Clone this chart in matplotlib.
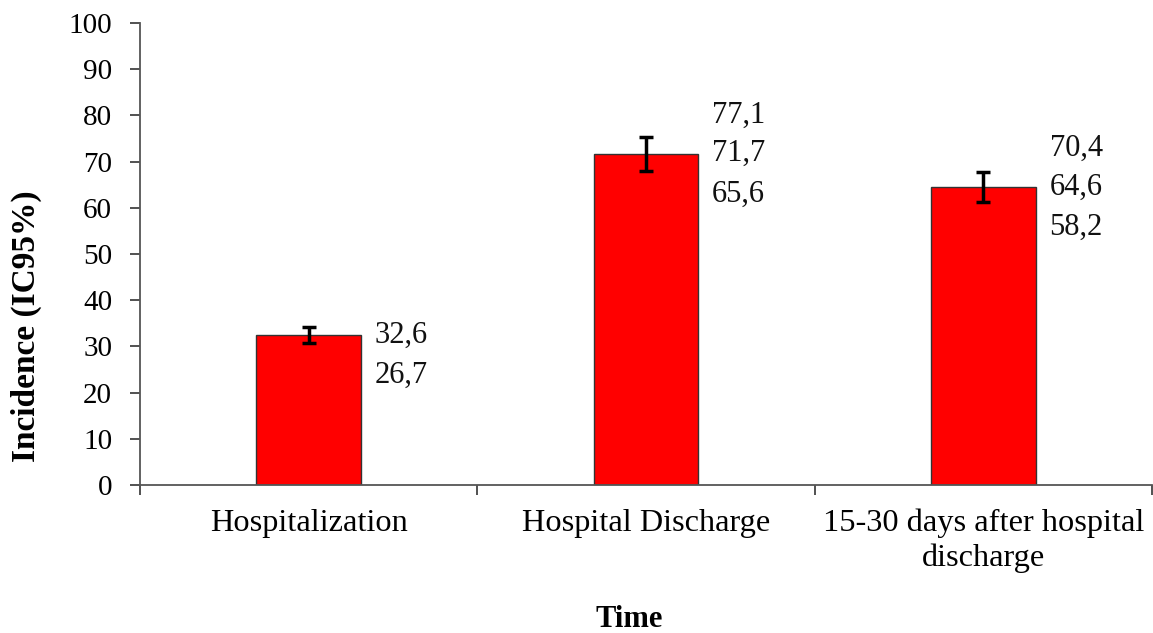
import matplotlib
matplotlib.use("Agg")
import matplotlib.pyplot as plt
import numpy as np

plt.rcParams['font.family'] = ['Liberation Serif', 'DejaVu Serif']

# data
categories = ["Hospitalization", "Hospital Discharge", "15-30 days after hospital\ndischarge"]
incidence = [32.5, 71.7, 64.5]
ci_low = [30.8, 68.0, 61.3]
ci_high = [34.3, 75.4, 67.8]

# annotation text shown next to each bar (upper / at bar top / lower)
label_upper = ["", "77,1", "70,4"]
label_mid = ["32,6", "71,7", "64,6"]
label_lower = ["26,7", "65,6", "58,2"]

fig = plt.figure(figsize=(11.53, 6.33), dpi=100)
ax = fig.add_axes([0.1214, 0.2338, 0.8778, 0.7299])

x = np.arange(len(categories))
bar_w = 0.31
err = [np.array(incidence) - np.array(ci_low), np.array(ci_high) - np.array(incidence)]

bars = ax.bar(x, incidence, width=bar_w, color="#ff0000", edgecolor="#333333", linewidth=1.0, zorder=2)
ax.errorbar(x, incidence, yerr=err, fmt="none", ecolor="black", elinewidth=2.5,
            capsize=4.8, capthick=2.5, zorder=3)

for i, b in enumerate(bars):
    xr = b.get_x() + b.get_width()
    yv = b.get_height()
    for txt, dy in [(label_upper[i], 28), (label_mid[i], 0), (label_lower[i], -29)]:
        if txt:
            ax.annotate(txt, xy=(xr, yv), xytext=(10, dy), textcoords="offset points",
                        ha="left", va="center", fontsize=22, color="#111111")

ax.set_xlim(-0.5, len(categories) - 0.5)
ax.set_ylim(0, 100)
ax.set_yticks(np.arange(0, 101, 10))
ax.tick_params(axis="y", direction="out", length=7, width=1.2, labelsize=21, pad=13,
               color="#333333")

ax.set_xticks(x)
ax.set_xticklabels(categories, fontsize=23.3, linespacing=1.25)
ax.tick_params(axis="x", which="major", length=0, pad=17)
ax.set_xticks(np.arange(-0.5, len(categories), 1.0), minor=True)
ax.tick_params(axis="x", which="minor", direction="out", length=7, width=1.2, color="#333333")

for s in ["top", "right"]:
    ax.spines[s].set_visible(False)
for s in ["left", "bottom"]:
    ax.spines[s].set_color("#555555")
    ax.spines[s].set_linewidth(1.3)

ax.set_xlabel("Time", fontsize=22, fontweight="bold")
ax.xaxis.set_label_coords(0.483, -0.26)
ax.set_ylabel("Incidence (IC95%)", fontsize=24, fontweight="bold")
ax.yaxis.set_label_coords(-0.097, 0.344)

fig.savefig("out.png", dpi=100)
